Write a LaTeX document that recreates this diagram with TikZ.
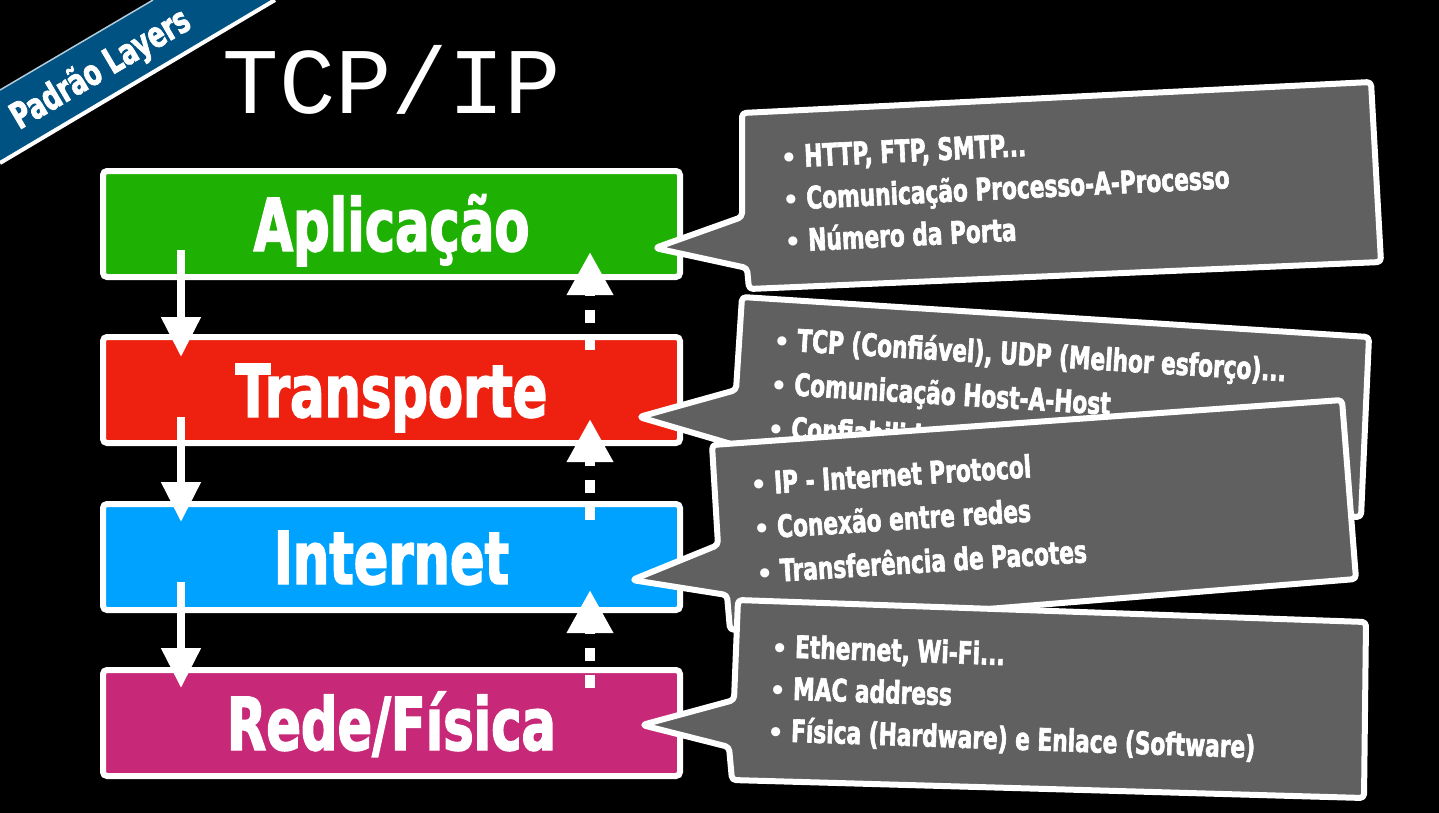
\documentclass[tikz,border=0pt]{standalone}
\usepackage{fontspec}
\usetikzlibrary{arrows.meta}
\newfontfamily\impact{DejaVu Sans}[FakeStretch=0.70,FakeBold=2]
\newfontfamily\titlefont{Liberation Mono}
\newfontfamily\bulfont{DejaVu Sans}
\definecolor{lgreen}{RGB}{30,176,2}
\definecolor{lred}{RGB}{238,32,16}
\definecolor{lblue}{RGB}{0,162,255}
\definecolor{lmag}{RGB}{200,40,120}
\definecolor{cgray}{RGB}{96,96,96}
\definecolor{bannerblue}{RGB}{0,82,130}
\newcommand\bul{{\bulfont\fontsize{26}{26}\selectfont\textbullet}\hspace{7pt}}
\tikzset{
  layer/.style={draw=white, line width=6pt, rounded corners=4pt, inner sep=0pt, outer sep=0pt,
    minimum width=577pt, minimum height=106pt, text height=54pt, text depth=0pt, text=white,
    font=\impact\bfseries\fontsize{73}{73}\selectfont},
  callout/.style={fill=cgray, draw=white, line width=6pt, line join=round, rounded corners=4pt},
  item/.style={font=\impact\bfseries\fontsize{31}{31}\selectfont, text=white, anchor=base west, inner sep=0pt},
  downarrow/.style={draw=white, line width=8pt, -{Triangle[width=38pt,length=40pt]}},
  uparrow/.style={draw=white, line width=10pt, dash pattern=on 13pt off 14pt, -{Triangle[width=44pt,length=43pt]}}
}
\begin{document}
\begin{tikzpicture}[x=1pt,y=-1pt]
\useasboundingbox (0,0) rectangle (1439,812);
\fill[black] (-10,-10) rectangle (1449,822);

% banner
\fill[bannerblue] (0,90) -- (153,0) -- (275,0) -- (0,163) -- cycle;
\draw[white, line width=4pt] (0,163) -- (275,0);
\draw[white!70!bannerblue, line width=1.5pt] (0,90) -- (153,0);
\node[rotate=30.6, text=white, inner sep=0pt, font=\impact\bfseries\fontsize{36}{36}\selectfont] (banner) at (101,70) {Padrão Layers};

% title
\node[anchor=base, text=white, inner sep=0pt, font=\titlefont\fontsize{94}{94}\selectfont] (title) at (392,113) {TCP/IP};

% layers
\node[layer, fill=lgreen] (app) at (391.5,224) {Aplicação};
\node[layer, fill=lred]   (tra) at (391.5,390) {Transporte};
\node[layer, fill=lblue]  (int) at (391.5,557) {Internet};
\node[layer, fill=lmag]   (red) at (391.5,723) {Rede/Física};

% arrows
\coordinate (d1s) at (181,250); \coordinate (d1e) at (181,357);
\coordinate (d2s) at (181,417); \coordinate (d2e) at (181,522);
\coordinate (d3s) at (181,582); \coordinate (d3e) at (181,688);
\draw[downarrow] (d1s) -- (d1e);
\draw[downarrow] (d2s) -- (d2e);
\draw[downarrow] (d3s) -- (d3e);
\coordinate (u1s) at (590,350); \coordinate (u1e) at (590,252);
\coordinate (u2s) at (590,520); \coordinate (u2e) at (590,419);
\coordinate (u3s) at (590,688); \coordinate (u3e) at (590,590);
\draw[uparrow] (u1s) -- (u1e);
\draw[uparrow] (u2s) -- (u2e);
\draw[uparrow] (u3s) -- (u3e);

% callout 1
\draw[callout] (742,113) -- (1371,82) -- (1381,262) -- (749,289) -- (747,268) -- (655,248) -- (742,217) -- cycle;
\node[item, rotate=2.8] (c1a) at (781,168) {\bul HTTP, FTP, SMTP...};
\node[item, rotate=2.8] (c1b) at (783,210) {\bul Comunicação Processo-A-Processo};
\node[item, rotate=2.8] (c1c) at (785,252) {\bul Número da Porta};

% callout 2
\draw[callout] (742,297) -- (1369,337) -- (1361,517) -- (740,492) -- (738,446) -- (639,417) -- (736,390) -- cycle;
\node[item, rotate=-3.5] (c2a) at (773,350) {\bul TCP (Confiável),\ UDP (Melhor esforço)...};
\node[item, rotate=-3.5] (c2b) at (770,394) {\bul Comunicação Host-A-Host};
\node[item, rotate=-3.5] (c2c) at (767,438) {\bul Confiabilidade};

% callout 3
\draw[callout] (712,445) -- (1342,400) -- (1356,579) -- (730,630) -- (727,595) -- (632,580) -- (718,545) -- cycle;
\node[item, rotate=3.6] (c3a) at (751,495) {\bul IP - Internet Protocol};
\node[item, rotate=3.6] (c3b) at (754,539) {\bul Conexão entre redes};
\node[item, rotate=3.6] (c3c) at (757,583) {\bul Transferência de Pacotes};

% callout 4
\draw[callout] (738,600) -- (1366,622) -- (1364,798) -- (732,780) -- (729,747) -- (642,725) -- (734,700) -- cycle;
\node[item, rotate=-2] (c4a) at (771,657) {\bul Ethernet, Wi-Fi...};
\node[item, rotate=-2] (c4b) at (769,699) {\bul MAC address};
\node[item, rotate=-2] (c4c) at (767,741) {\bul Física (Hardware) e Enlace (Software)};
\end{tikzpicture}
\end{document}
